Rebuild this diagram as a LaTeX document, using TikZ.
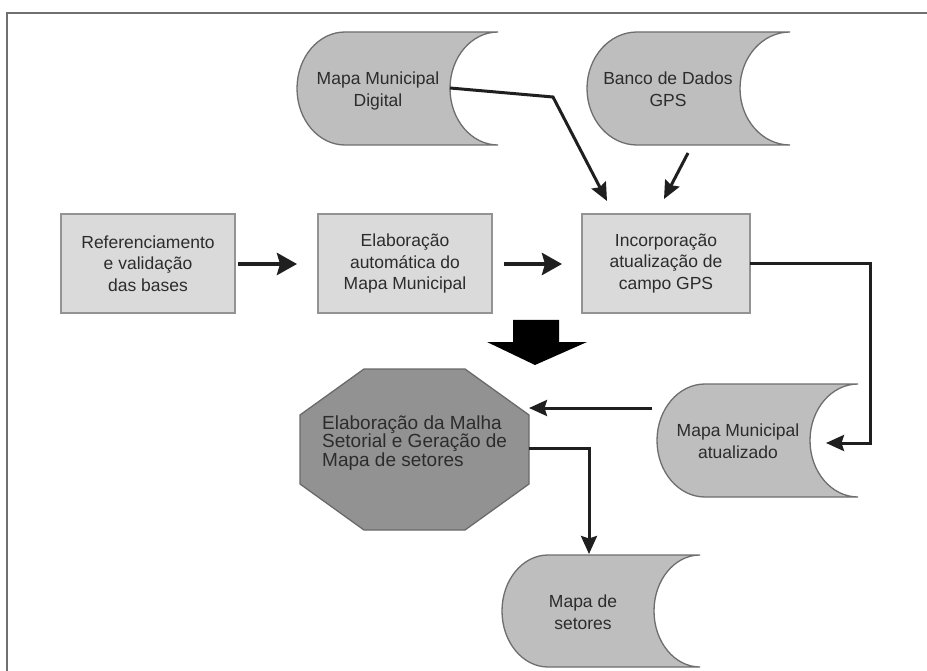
\documentclass[tikz,border=0pt]{standalone}
\usepackage{fontspec}
\setmainfont{Liberation Sans}
\usetikzlibrary{arrows.meta}
\definecolor{sdfill}{HTML}{BEBEBE}
\definecolor{sdline}{HTML}{6E6E6E}
\definecolor{boxfill}{HTML}{DADADA}
\definecolor{boxline}{HTML}{939393}
\definecolor{octfill}{HTML}{929292}
\definecolor{octline}{HTML}{6A6A6A}
\definecolor{txtcol}{HTML}{2C2C2C}
\definecolor{framecol}{HTML}{707070}
\newcommand\sdshape[5]{%
  \filldraw[sd] ({#1+#5},#3) -- (#2,#3)
   .. controls ({#2-0.5523*#5},#3) and ({#2-#5},{(#3+#4)/2-0.5523*(#4-#3)/2}) .. ({#2-#5},{(#3+#4)/2})
   .. controls ({#2-#5},{(#3+#4)/2+0.5523*(#4-#3)/2}) and ({#2-0.5523*#5},#4) .. (#2,#4)
   -- ({#1+#5},#4)
   .. controls ({#1+#5-0.5523*#5},#4) and (#1,{(#3+#4)/2+0.5523*(#4-#3)/2}) .. (#1,{(#3+#4)/2})
   .. controls (#1,{(#3+#4)/2-0.5523*(#4-#3)/2}) and ({#1+#5-0.5523*#5},#3) .. cycle;}
\begin{document}
\begin{tikzpicture}[x=1pt,y=-1pt,
  sd/.style={fill=sdfill,draw=sdline,line width=1.3pt},
  txt/.style={text=txtcol,align=center,inner sep=0pt,font=\fontsize{17.5}{21.5}\selectfont},
  stepbox/.style={draw=boxline,fill=boxfill,line width=1.7pt,minimum width=174pt,minimum height=99pt,
     inner sep=0pt,text=txtcol,align=center,font=\fontsize{17.5}{21.5}\selectfont},
  conn/.style={line width=3pt,draw=black!88,-{Stealth[length=18pt,width=16pt,inset=2.5pt]}},
  bigconn/.style={line width=4pt,draw=black!88,-{Stealth[length=20pt,width=22pt,inset=3pt]}}]
\useasboundingbox (0,0) rectangle (927,671);
\fill[white] (0,0) rectangle (927,671);
% frame
\draw[framecol,line width=2.4pt] (7,671) -- (7,13) -- (927,13);
% stored data shapes
\sdshape{297}{498}{32}{145}{48}
\node[txt] (md) at (378,91) {Mapa Municipal\\Digital};
\sdshape{587}{790}{32}{145}{50}
\node[txt] (bc) at (668,89) {Banco de Dados\\GPS};
\sdshape{657}{858}{384}{497}{48}
\node[txt] (ma) at (738,441) {Mapa Municipal\\atualizado};
\sdshape{502}{700}{555}{667}{46}
\node[txt] (ms) at (583,612) {Mapa de\\setores};
% boxes
\node[stepbox] (b1) at (148,263.5) {Referenciamento\\e validação\\das bases};
\node[stepbox] (b2) at (405,263.5) {Elaboração\\automática do\\Mapa Municipal};
\node[stepbox,minimum width=168pt] (b3) at (666,263.5) {Incorporação\\atualização de\\campo GPS};
% octagon
\filldraw[fill=octfill,draw=octline,line width=1.3pt]
  (364,369) -- (465,369) -- (529,415) -- (529,484) -- (465,530) -- (364,530) -- (300,484) -- (300,415) -- cycle;
\node[text=txtcol,align=left,inner sep=0pt,anchor=west,font=\fontsize{19}{18.5}\selectfont] (oct) at (322,443)
  {Elaboração da Malha\\Setorial e Geração de\\Mapa de setores};
% big down arrow
\fill[black] (513,320) -- (559,320) -- (559,342) -- (587,342) -- (535,365) -- (487,342) -- (513,342) -- cycle;
% connection points
\coordinate (mdIn) at (450,88);
\coordinate (mdBend) at (553,97);
\coordinate (b3inA) at (607,201);
\coordinate (bcOut) at (688,153);
\coordinate (b3inB) at (664,199);
\coordinate (b1out) at (238,264);
\coordinate (b2in) at (297,264);
\coordinate (b2out) at (504,264);
\coordinate (b3in) at (562,264);
\coordinate (b3out) at (750,264);
\coordinate (c1) at (870,264);
\coordinate (c2) at (870,443);
\coordinate (maIn) at (826,443);
\coordinate (maOut) at (652,408);
\coordinate (octIn) at (529,408);
\coordinate (octOut) at (529,448);
\coordinate (c3) at (589,448);
\coordinate (msIn) at (589,554);
% connectors
\draw[conn] (mdIn) -- (mdBend) -- (b3inA);
\draw[conn] (bcOut) -- (b3inB);
\draw[bigconn] (b1out) -- (b2in);
\draw[bigconn] (b2out) -- (b3in);
\draw[conn] (b3out) -- (c1) -- (c2) -- (maIn);
\draw[conn] (maOut) -- (octIn);
\draw[conn] (octOut) -- (c3) -- (msIn);
\end{tikzpicture}
\end{document}
